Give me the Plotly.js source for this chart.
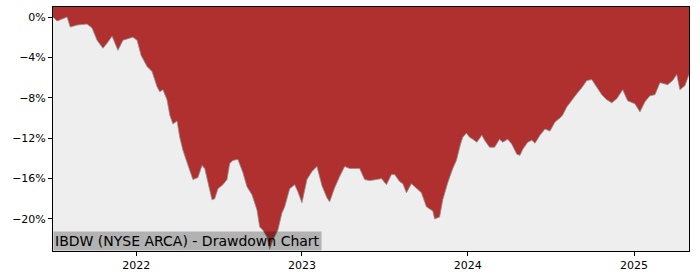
<!DOCTYPE html>
<html>
<head>
<meta charset="utf-8">
<script src="https://cdn.plot.ly/plotly-3.0.1.min.js"></script>
<style>html,body{margin:0;padding:0;background:#fff;}#chart{width:700px;height:280px;}</style>
</head>
<body>
<div id="chart"></div>
<script>
const dates = [
"2021-07-02","2021-07-11","2021-07-22","2021-08-02","2021-08-09","2021-08-24","2021-09-15","2021-09-26",
"2021-10-07","2021-10-20","2021-10-29","2021-11-09","2021-11-22","2021-12-03","2021-12-25","2022-01-03",
"2022-01-12","2022-01-25","2022-02-05","2022-02-16","2022-02-22","2022-03-01","2022-03-10","2022-03-16",
"2022-03-23","2022-04-01","2022-04-07","2022-04-14","2022-04-23","2022-04-29","2022-05-06","2022-05-17",
"2022-05-26","2022-06-01","2022-06-08","2022-06-17","2022-06-23","2022-06-30","2022-07-11","2022-07-20",
"2022-07-26","2022-08-02","2022-08-13","2022-08-24","2022-09-02","2022-09-13","2022-09-24","2022-09-30",
"2022-10-07","2022-10-16","2022-10-22","2022-10-29","2022-11-09","2022-11-18","2022-11-24","2022-12-05",
"2022-12-16","2022-12-23","2023-01-01","2023-01-12","2023-01-23","2023-02-03","2023-02-14","2023-02-25",
"2023-03-03","2023-03-14","2023-03-25","2023-04-05","2023-04-16","2023-04-27","2023-05-08","2023-05-19",
"2023-05-30","2023-06-14","2023-06-25","2023-07-06","2023-07-17","2023-07-24","2023-08-04","2023-08-11",
"2023-08-19","2023-08-30","2023-09-10","2023-09-21","2023-10-02","2023-10-09","2023-10-16","2023-10-20",
"2023-10-31","2023-11-07","2023-11-18","2023-11-29","2023-12-07","2023-12-16","2023-12-21","2023-12-29",
"2024-01-05","2024-01-12","2024-01-21","2024-02-01","2024-02-07","2024-02-18","2024-02-29","2024-03-11",
"2024-03-18","2024-03-29","2024-04-07","2024-04-18","2024-04-25","2024-05-01","2024-05-12","2024-05-21",
"2024-05-28","2024-06-08","2024-06-19","2024-06-30","2024-07-11","2024-07-22","2024-07-28","2024-08-06",
"2024-08-17","2024-08-28","2024-09-08","2024-09-19","2024-09-30","2024-10-11","2024-10-22","2024-11-02",
"2024-11-13","2024-11-24","2024-12-07","2024-12-18","2025-01-03","2025-01-14","2025-01-25","2025-02-05",
"2025-02-16","2025-02-27","2025-03-10","2025-03-16","2025-03-27","2025-04-05","2025-04-12","2025-04-23",
"2025-05-02"
];
const drawdown = [
0,-0.4,-0.2,0,-1.0,-0.8,-0.7,-1.1,
-2.3,-3.1,-2.6,-1.9,-3.3,-2.3,-2.0,-2.3,
-3.8,-4.9,-5.4,-6.9,-7.4,-7.2,-8.2,-9.7,
-10.6,-10.3,-11.9,-13.2,-14.4,-15.1,-16.1,-15.9,
-14.7,-15.0,-16.3,-18.1,-18.0,-17.0,-16.6,-16.1,
-14.5,-14.2,-14.1,-15.4,-16.8,-17.6,-19.1,-20.8,
-21.1,-21.8,-23.0,-22.1,-21.1,-19.4,-18.8,-17.0,
-16.6,-17.3,-18.4,-16.1,-15.3,-14.8,-16.7,-17.9,
-18.3,-16.9,-15.8,-14.8,-15.0,-15.0,-15.0,-16.1,
-16.2,-16.1,-16.0,-16.6,-15.6,-15.6,-16.3,-16.5,
-17.4,-16.5,-17.0,-17.4,-18.8,-19.0,-19.2,-20.0,
-19.8,-18.1,-16.4,-15.0,-14.2,-12.6,-11.9,-11.5,
-11.9,-12.1,-12.4,-11.7,-12.2,-12.9,-12.9,-12.1,
-12.4,-12.1,-12.6,-13.6,-13.7,-13.1,-12.4,-12.2,
-12.5,-11.7,-11.1,-11.3,-10.4,-10.0,-9.7,-8.9,
-8.2,-7.6,-7.0,-6.3,-6.2,-7.0,-7.7,-8.2,
-8.5,-8.1,-7.2,-8.3,-8.6,-9.4,-8.4,-7.8,
-7.7,-6.5,-6.6,-6.7,-6.3,-5.7,-7.2,-6.8,
-5.7
];
const yTickVals = [0,-4,-8,-12,-16,-20];
const yTickText = ["0%","\u22124%","\u22128%","\u221212%","\u221216%","\u221220%"];
const xTickVals = ["2022-01-01","2023-01-01","2024-01-01","2025-01-01"];
const xTickText = ["2022","2023","2024","2025"];
const chartLabel = "IBDW (NYSE ARCA) - Drawdown Chart";

const first = dates[0], last = dates[dates.length-1];
const traces = [
  {x:[first,last], y:[-40,-40], type:'scatter', mode:'lines', line:{width:0}, hoverinfo:'skip', showlegend:false},
  {x:dates, y:drawdown, type:'scatter', mode:'lines', fill:'tonexty', fillcolor:'#eeeeee',
   line:{color:'#909090', width:0.8}, showlegend:false}
];
const layout = {
  width:700, height:280,
  margin:{l:53, r:11, t:7, b:29},
  paper_bgcolor:'#ffffff',
  plot_bgcolor:'#b03030',
  font:{family:'DejaVu Sans', size:11, color:'#000'},
  showlegend:false,
  xaxis:{type:'date', range:[first,last], tickvals:xTickVals, ticktext:xTickText,
    ticks:'outside', ticklen:4, tickcolor:'#000', showgrid:false, zeroline:false,
    showline:true, linecolor:'#000', linewidth:1, mirror:true},
  yaxis:{range:[-23.17,0.99], tickvals:yTickVals, ticktext:yTickText,
    ticks:'outside', ticklen:4, tickcolor:'#000', showgrid:false, zeroline:false,
    showline:true, linecolor:'#000', linewidth:1, mirror:true},
  annotations:[{text:chartLabel, xref:'paper', yref:'paper', x:0, y:0, xanchor:'left', yanchor:'bottom',
    showarrow:false, bgcolor:'rgba(0,0,0,0.25)', borderpad:1, font:{family:'DejaVu Sans', size:14, color:'#000'}}]
};
Plotly.newPlot('chart', traces, layout, {displayModeBar:false, staticPlot:true});
</script>
</body>
</html>
